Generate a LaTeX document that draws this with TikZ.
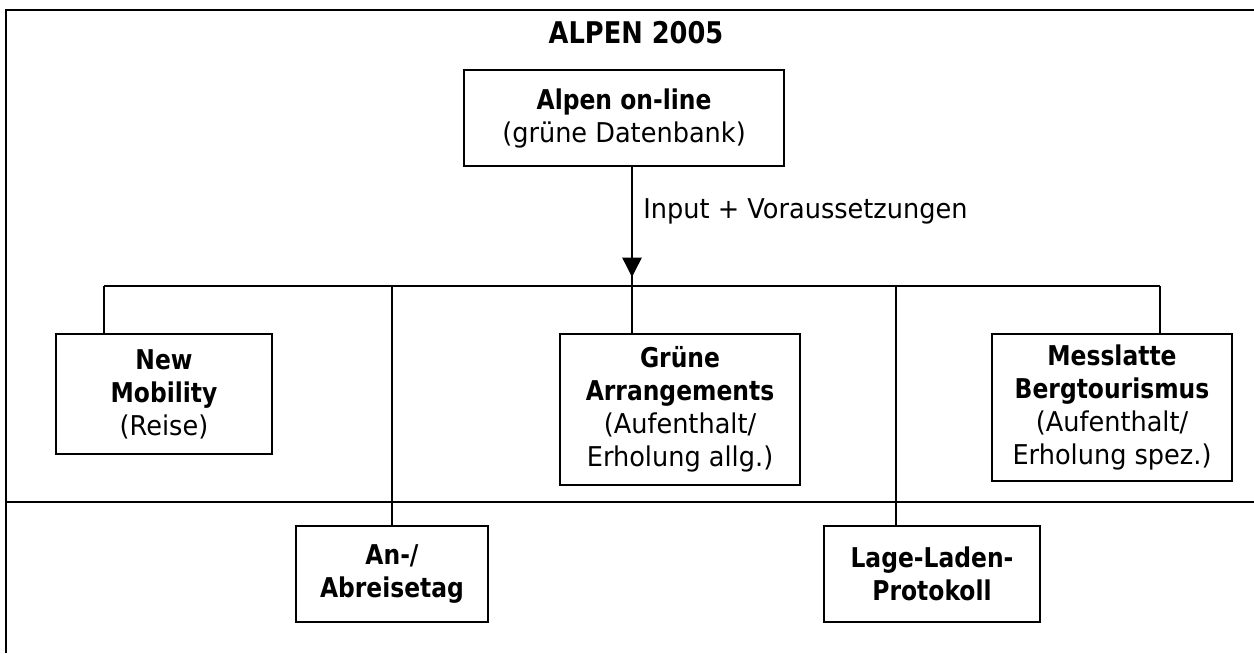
\documentclass[tikz,border=0pt]{standalone}
\usepackage{fontspec}
\setmainfont{DejaVu Sans}[FakeStretch=0.94, BoldFeatures={FakeStretch=0.86}]
\usetikzlibrary{arrows.meta, positioning, calc}

\begin{document}
\begin{tikzpicture}[
      x=0.02cm, y=-0.02cm,
      box/.style={draw, line width=1.1pt, align=center, inner sep=0pt, font=\fontsize{15.5}{18.8}\selectfont},
      line/.style={line width=0.8pt},
      arr/.style={line width=0.8pt, -{Triangle[length=11pt, width=11pt]}},
    ]
      \useasboundingbox (0,0) rectangle (1254,653);
      % frame and divider
      \draw[line width=1.1pt] (1254,10) -- (6,10) -- (6,653);
      \draw[line width=1.1pt] (6,502) -- (1254,502);

      \node[font=\fontsize{17}{20}\selectfont\bfseries] (title) at (636,33) {ALPEN 2005};
      \node[box, minimum width=6.4cm, minimum height=1.92cm] (alpen) at (624,118) {\textbf{Alpen on-line}\\(grüne Datenbank)};

      \node[box, minimum width=4.32cm, minimum height=2.4cm] (nm) at (164,394) {\textbf{New}\\\textbf{Mobility}\\(Reise)};
      \node[box, minimum width=4.8cm, minimum height=3.02cm] (ga) at (680,409.5) {\textbf{Grüne}\\\textbf{Arrangements}\\(Aufenthalt/\\Erholung allg.)};
      \node[box, minimum width=4.8cm, minimum height=2.94cm] (ms) at (1112,407.5) {\textbf{Messlatte}\\\textbf{Bergtourismus}\\(Aufenthalt/\\Erholung spez.)};
      \node[box, minimum width=3.84cm, minimum height=1.92cm] (an) at (392,574) {\textbf{An-/}\\\textbf{Abreisetag}};
      \node[box, minimum width=4.32cm, minimum height=1.92cm] (ll) at (932,574) {\textbf{Lage-Laden-}\\\textbf{Protokoll}};

      \coordinate (bus) at (632,286);
      \coordinate (tip) at (632,277);
      \coordinate (b1) at (104,286);
      \coordinate (b2) at (392,286);
      \coordinate (b3) at (896,286);
      \coordinate (b4) at (1160,286);

      \draw[line] (alpen.south -| bus) -- (bus);
      \draw[arr] (alpen.south -| bus) -- (tip);
      \node[font=\fontsize{15.5}{18.8}\selectfont, anchor=west, inner sep=0pt] (lbl) at (643,211) {Input + Voraussetzungen};

      \draw[line] (b1) -- (b4);
      \draw[line] (b1) -- (b1 |- nm.north);
      \draw[line] (b2) -- (an.north);
      \draw[line] (bus) -- (bus |- ga.north);
      \draw[line] (b3) -- (b3 |- ll.north);
      \draw[line] (b4) -- (b4 |- ms.north);
    \end{tikzpicture}
\end{document}
